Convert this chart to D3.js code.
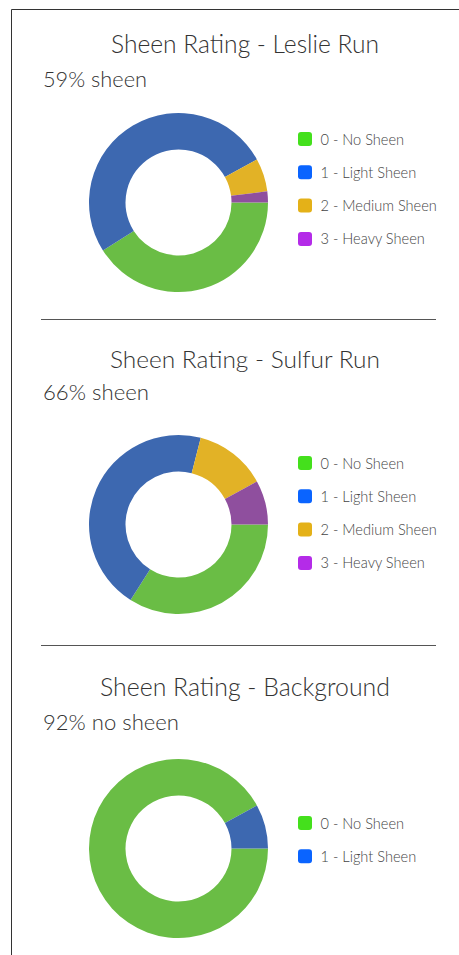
<!DOCTYPE html>
<html>
<head>
<meta charset="utf-8">
<script src="https://cdn.jsdelivr.net/npm/d3@7"></script>
<style>
  body { margin: 0; background: #fff; }
  text { font-family: Lato, "Open Sans", sans-serif; font-weight: 300; }
</style>
</head>
<body>
<div id="chart"></div>
<script>
// data
var categories = ["0 - No Sheen", "1 - Light Sheen", "2 - Medium Sheen", "3 - Heavy Sheen"];
var siteTitles = ["Sheen Rating - Leslie Run", "Sheen Rating - Sulfur Run", "Sheen Rating - Background"];
var summaries = ["59% sheen", "66% sheen", "92% no sheen"];
var leslieValues = [41, 51, 6, 2];
var sulfurValues = [34, 45, 13, 8];
var backgroundValues = [92, 8];

var sliceColors = ["#6abd45", "#3d68b0", "#e2b226", "#8f4f9e"];
var legendColors = ["#44e01c", "#0a64ff", "#e4b118", "#b42be8"];

var width = 459,
    height = 955;

var svg = d3.select('#chart').append('svg')
    .attr('width', width)
    .attr('height', height);

// frame
svg.append('path')
    .attr('d', 'M11.5,' + height + 'V9.5H' + width)
    .style('fill', 'none')
    .style('stroke', '#333')
    .style('stroke-width', 1);

// section layout
var sections = [
    {values: leslieValues, titleY: 53, subY: 87, cy: 202.5, legendY: 139},
    {values: sulfurValues, titleY: 368, subY: 400, cy: 524.5, legendY: 463},
    {values: backgroundValues, titleY: 696, subY: 730, cy: 848.5, legendY: 823}
];
var dividers = [319.5, 645.5];

svg.selectAll('line.divider')
    .data(dividers)
    .enter()
    .append('line')
    .attr('class', 'divider')
    .attr('x1', 41)
    .attr('x2', 436)
    .attr('y1', function(d) { return d; })
    .attr('y2', function(d) { return d; })
    .style('stroke', '#555')
    .style('stroke-width', 1.2);

var pie = d3.pie()
    .sort(null)
    .startAngle(Math.PI / 2)
    .endAngle(Math.PI / 2 + 2 * Math.PI);

var arc = d3.arc()
    .innerRadius(53)
    .outerRadius(89.5);

// fit a text's width to what the reference shows
function fitWidth(sel, target) {
    var size = parseFloat(sel.style('font-size'));
    var w = sel.node().getComputedTextLength();
    sel.style('font-size', (size * target / w) + 'px');
}

sections.forEach(function(s, i) {
    var g = svg.append('g');

    var title = g.append('text')
        .attr('x', 245)
        .attr('y', s.titleY)
        .attr('text-anchor', 'middle')
        .style('font-size', '24px')
        .style('fill', '#333')
        .text(siteTitles[i]);
    fitWidth(title, [268, 270, 290][i]);

    var sub = g.append('text')
        .attr('x', 43)
        .attr('y', s.subY)
        .style('font-size', '21px')
        .style('fill', '#333')
        .text(summaries[i]);
    fitWidth(sub, [104, 106, 136][i]);

    g.append('g')
        .attr('transform', 'translate(178.5,' + s.cy + ')')
        .selectAll('path')
        .data(pie(s.values))
        .enter()
        .append('path')
        .attr('d', arc)
        .style('fill', function(d, j) { return sliceColors[j]; });

    var legend = g.append('g')
        .attr('transform', 'translate(298,' + s.legendY + ')')
        .selectAll('g')
        .data(categories.slice(0, s.values.length))
        .enter()
        .append('g')
        .attr('transform', function(d, j) { return 'translate(0,' + (j * 33.3) + ')'; });

    legend.append('rect')
        .attr('x', 0)
        .attr('y', -7)
        .attr('width', 14)
        .attr('height', 14)
        .attr('rx', 3)
        .style('fill', function(d, j) { return legendColors[j]; });

    legend.append('text')
        .attr('x', 22.5)
        .attr('y', 5.5)
        .style('font-size', '14.6px')
        .style('fill', '#444')
        .text(function(d) { return d; });
});
</script>
</body>
</html>
